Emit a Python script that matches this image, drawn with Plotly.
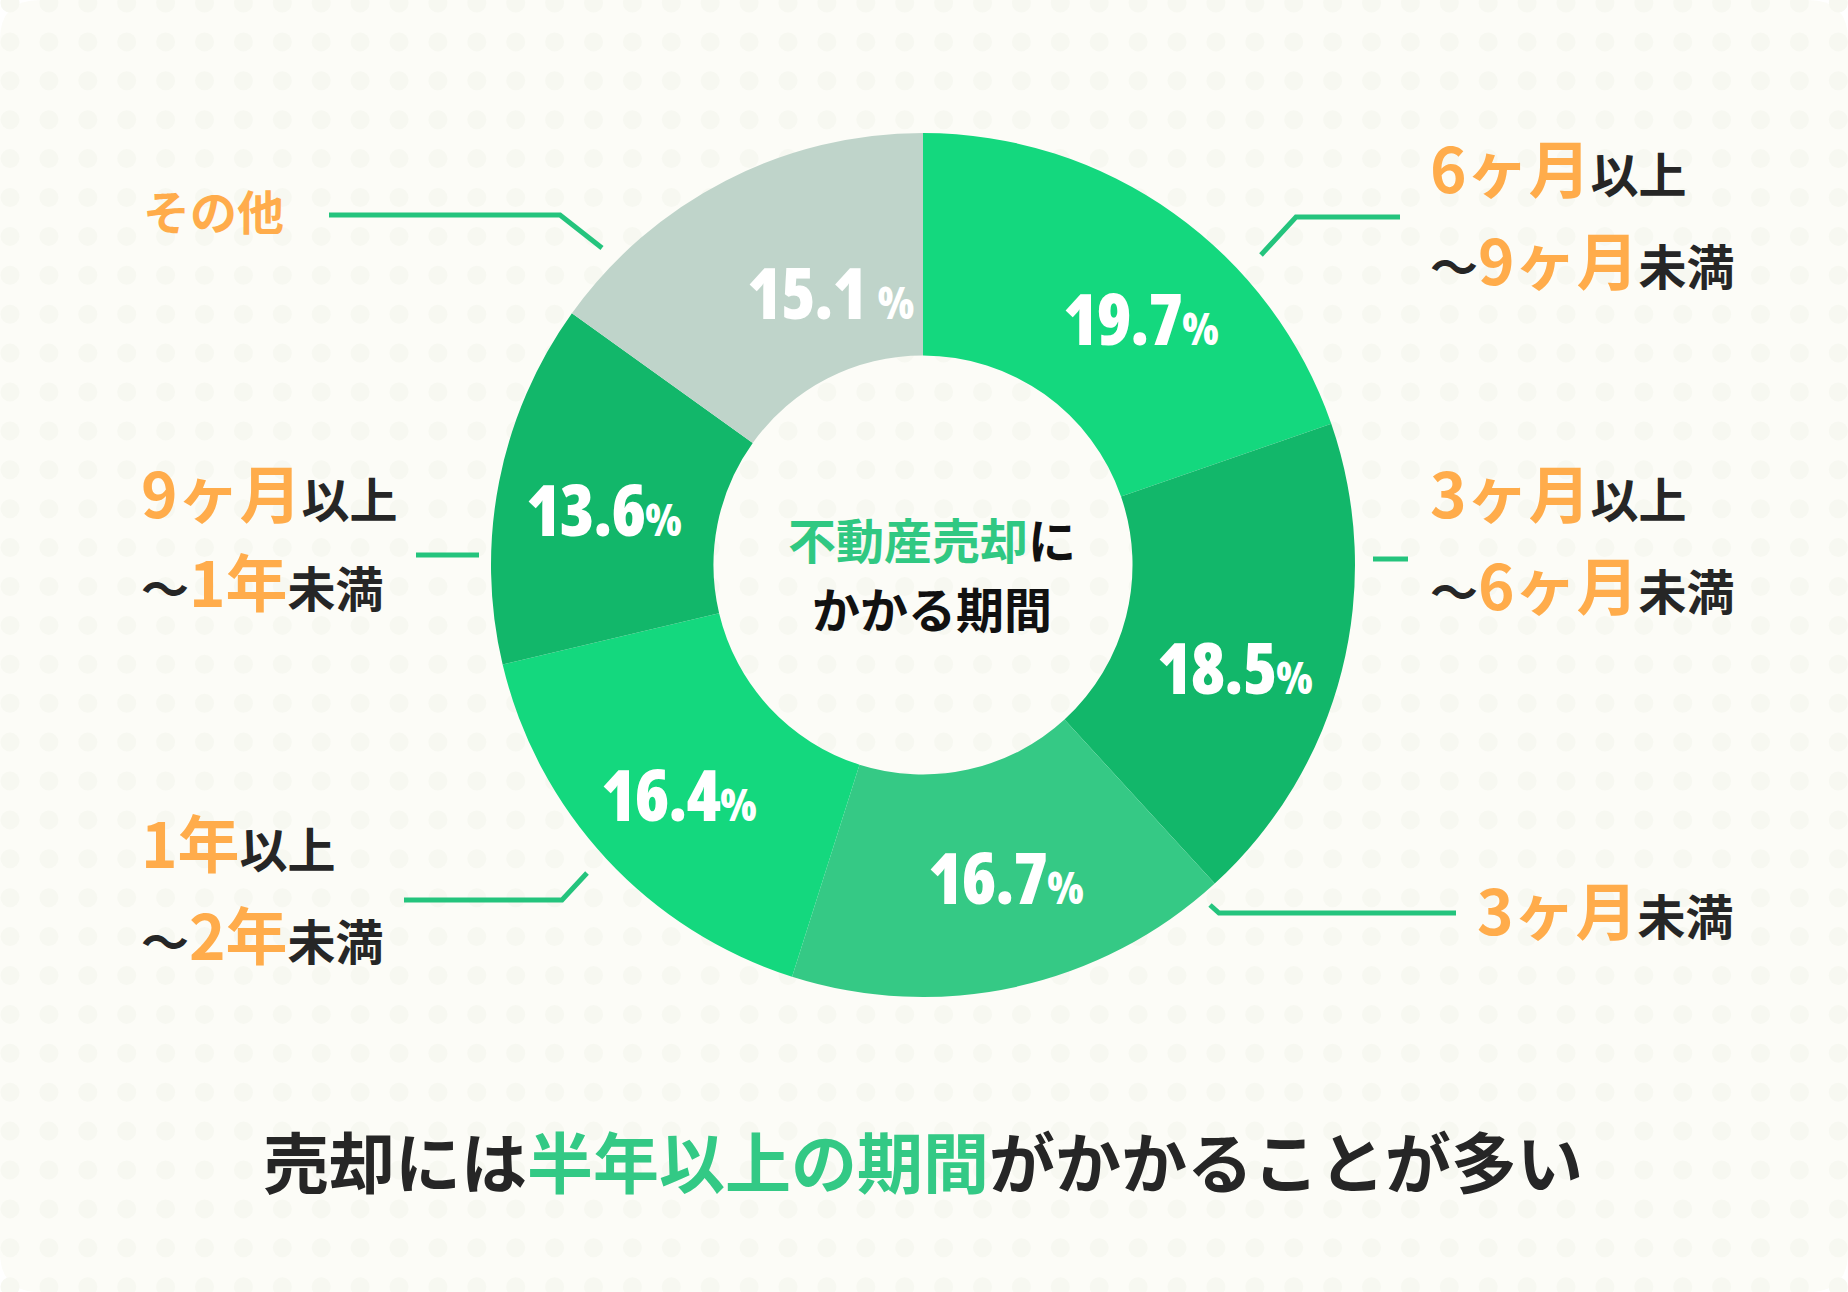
import numpy as np
import plotly.graph_objects as go

# ---------------- data ----------------
categories = ["6ヶ月以上～9ヶ月未満", "3ヶ月以上～6ヶ月未満", "3ヶ月未満",
              "1年以上～2年未満", "9ヶ月以上～1年未満", "その他"]
shares = [19.7, 18.5, 16.7, 16.4, 13.6, 15.1]
center_title = ["不動産売却", "に", "かかる期間"]
headline = ["売却には", "半年以上の期間", "がかかることが多い"]

# ---------------- style / layout ----------------
W, H = 1848, 1292
CX, CY, R = 923, 565, 432
HOLE = 0.485
slice_colors = ["#14d87e", "#12b76a", "#35c985", "#14d87e", "#12b76a", "#bfd4ca"]
ORANGE = "#ffac4b"
DARK = "#262626"
GREEN_TXT = "#30c882"
LINE_GREEN = "#24c47d"
BG = "#fcfcf7"
DOT = "#f7f8f1"
JP = "Noto Sans CJK JP"
NUM = "Open Sans"
NUM_CSS = "font-stretch:75%;letter-spacing:-1px"

# percent label placement (radius in px, angular nudge in degrees from slice mid-angle)
LABEL_R = [324, 330, 328, 339, 323, 283]
LABEL_DA = [6.6, 4.9, -2.1, -1.0, -2.3, 8.1]
PCT_GAP = ["", "", "", "", "", " "]

fig = go.Figure()

# decorative background dot texture
gx, gy = np.meshgrid(np.arange(10, W + 20, 38.9), np.arange(3, H + 20, 38.9))
fig.add_trace(go.Scatter(x=gx.ravel(), y=gy.ravel(), mode="markers",
                         marker=dict(size=19, color=DOT, line=dict(width=0)),
                         hoverinfo="skip", showlegend=False))

fig.add_trace(go.Pie(
    labels=categories, values=shares, sort=False, direction="clockwise", rotation=0,
    hole=HOLE, textinfo="none", hoverinfo="label+percent",
    marker=dict(colors=slice_colors, line=dict(width=0)),
    domain=dict(x=[(CX - R) / W, (CX + R) / W], y=[1 - (CY + R) / H, 1 - (CY - R) / H]),
    showlegend=False,
))

annotations = []
# percent labels on the ring
cum = np.cumsum([0] + shares[:-1])
for i, v in enumerate(shares):
    ang = np.deg2rad((cum[i] + v / 2) / 100 * 360 + LABEL_DA[i])
    x = CX + LABEL_R[i] * np.sin(ang)
    y = CY - 6 - LABEL_R[i] * np.cos(ang)
    annotations.append(dict(
        x=x, y=y, xref="x", yref="y", xanchor="center", yanchor="middle", showarrow=False,
        text=(f"<span style='{NUM_CSS}'>{v:.1f}{PCT_GAP[i]}</span>"
              f"<span style='{NUM_CSS};font-size:44px'>%</span>"),
        font=dict(family=NUM, size=70, color="white", weight=800),
    ))


def o(t, s=62):
    return f"<span style='color:{ORANGE};font-size:{s}px'>{t}</span>"


def k(t, s=48):
    return f"<span style='color:{DARK};font-size:{s}px'>{t}</span>"


outer = [
    (141, 209, o("その他", 47)),
    (1428, 166, o("6ヶ月") + k("以上")),
    (1428, 258, k("～") + o("9ヶ月") + k("未満")),
    (1428, 491, o("3ヶ月") + k("以上")),
    (1428, 583, k("～") + o("6ヶ月") + k("未満")),
    (1475, 908, o("3ヶ月") + k("未満")),
    (139, 491, o("9ヶ月") + k("以上")),
    (139, 580, k("～") + o("1年") + k("未満")),
    (139, 841, o("1年") + k("以上")),
    (139, 933, k("～") + o("2年") + k("未満")),
]
for x, y, t in outer:
    annotations.append(dict(x=x, y=y, xref="x", yref="y", xanchor="left", yanchor="middle",
                            showarrow=False, text=t,
                            font=dict(family=JP, size=48, color=DARK, weight=700)))

# centre text
annotations.append(dict(x=932, y=538, xref="x", yref="y", xanchor="center", yanchor="middle",
                        showarrow=False,
                        text=f"<span style='color:{GREEN_TXT}'>{center_title[0]}</span>{center_title[1]}",
                        font=dict(family=JP, size=48, color="#111111", weight=700)))
annotations.append(dict(x=932, y=607, xref="x", yref="y", xanchor="center", yanchor="middle",
                        showarrow=False, text=center_title[2],
                        font=dict(family=JP, size=48, color="#111111", weight=700)))

# headline
annotations.append(dict(x=923, y=1159, xref="x", yref="y", xanchor="center", yanchor="middle",
                        showarrow=False,
                        text=(f"{headline[0]}<span style='color:#33c985'>{headline[1]}</span>{headline[2]}"),
                        font=dict(family=JP, size=66, color=DARK, weight=700)))

shapes = [
    dict(type="path", xref="x", yref="y", layer="below",
         path=(f"M 40 0 L {W-40} 0 Q {W} 0 {W} 40 L {W} {H-40} Q {W} {H} {W-40} {H} "
               f"L 40 {H} Q 0 {H} 0 {H-40} L 0 40 Q 0 0 40 0 Z"),
         fillcolor=BG, line=dict(width=0)),
]
leaders = [
    "M 329 215 L 560 215 L 602 248",
    "M 1400 217 L 1296 217 L 1261 255",
    "M 1373 559 L 1408 559",
    "M 1456 913 L 1219 913 L 1210 905",
    "M 416 555 L 479 555",
    "M 404 900 L 562 900 L 587 873",
]
for p in leaders:
    shapes.append(dict(type="path", xref="x", yref="y", layer="above", path=p,
                       line=dict(color=LINE_GREEN, width=5)))

fig.update_layout(
    width=W, height=H, margin=dict(l=0, r=0, t=0, b=0),
    paper_bgcolor="white", plot_bgcolor="white",
    xaxis=dict(range=[0, W], visible=False, fixedrange=True, domain=[0, 1]),
    yaxis=dict(range=[H, 0], visible=False, fixedrange=True, domain=[0, 1]),
    annotations=annotations, shapes=shapes, showlegend=False,
)

fig.write_html("out.html", config={"displayModeBar": False},
               post_script="document.body.style.margin='0';document.body.style.overflow='hidden';")
